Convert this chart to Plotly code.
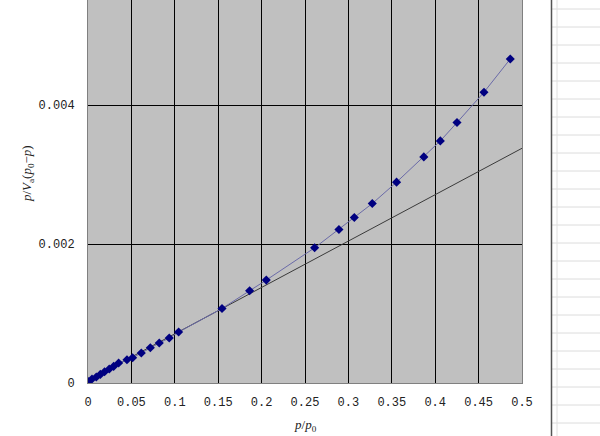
import plotly.graph_objects as go

# Measured data (p/p0 vs p/[Va(p0-p)])
rel_pressure = [0.0005, 0.0046, 0.0096, 0.0142, 0.0191, 0.0245, 0.0295, 0.0353,
                0.0449, 0.0514, 0.0614, 0.0718, 0.0821, 0.0936, 0.1044, 0.1544,
                0.1862, 0.2054, 0.2611, 0.2891, 0.3068, 0.3275, 0.3555, 0.3869,
                0.4059, 0.4251, 0.4562, 0.4865]
bet_value = [0.000020, 0.000058, 0.000086, 0.000124, 0.000163, 0.000201, 0.000239, 0.000288,
             0.000335, 0.000364, 0.000432, 0.000508, 0.000576, 0.000647, 0.000734, 0.001073,
             0.001328, 0.001482, 0.001947, 0.002210, 0.002383, 0.002584, 0.002892, 0.003256,
             0.003486, 0.003750, 0.004187, 0.004666]

# Linear fit line endpoints
fit_x = [0.0, 0.5]
fit_y = [0.00004, 0.00338]

x_ticks = [0, 0.05, 0.1, 0.15, 0.2, 0.25, 0.3, 0.35, 0.4, 0.45, 0.5]
x_ticklabels = ["0", "0.05", "0.1", "0.15", "0.2", "0.25", "0.3", "0.35", "0.4", "0.45", "0.5"]
y_ticks = [0, 0.002, 0.004]
y_ticklabels = ["0", "0.002", "0.004"]

tick_font = dict(family="Liberation Mono, DejaVu Sans Mono, monospace", size=12, color="#222222")

fig = go.Figure()
fig.add_trace(go.Scatter(x=fit_x, y=fit_y, mode="lines",
                         line=dict(color="#3a3a3a", width=1), showlegend=False))
fig.add_trace(go.Scatter(x=rel_pressure, y=bet_value, mode="lines+markers",
                         line=dict(color="#6a6aa8", width=1),
                         marker=dict(symbol="diamond", size=7, color="#000080",
                                     line=dict(width=0)),
                         showlegend=False))

fig.update_layout(
    width=600, height=436,
    margin=dict(l=88, r=78, t=0, b=53, autoexpand=False),
    paper_bgcolor="white",
    plot_bgcolor="#C0C0C0",
    xaxis=dict(range=[0, 0.5], tickvals=x_ticks, ticktext=x_ticklabels,
               showgrid=True, gridcolor="#000000", gridwidth=1, automargin=False,
               zeroline=False, showline=True, linecolor="#808080", linewidth=1,
               mirror=True, ticks="", tickfont=tick_font, ticklabelstandoff=8),
    yaxis=dict(range=[0, 0.005515], tickvals=y_ticks, ticktext=y_ticklabels,
               showgrid=True, gridcolor="#000000", gridwidth=1, automargin=False,
               zeroline=False, showline=True, linecolor="#808080", linewidth=1,
               mirror=True, ticks="", tickfont=tick_font, ticklabelstandoff=10),
)

# axis titles as annotations
fig.add_annotation(text="<i>p</i>/<i>p</i><sub>0</sub>", xref="paper", yref="paper",
                   x=0.5, y=-42 / 383, xanchor="center", yanchor="middle",
                   showarrow=False,
                   font=dict(family="Liberation Serif, serif", size=13, color="#222222"))
fig.add_annotation(text="<i>p</i>/<i>V</i><sub>a</sub>(<i>p</i><sub>0</sub>−<i>p</i>)",
                   xref="paper", yref="paper", textangle=-90,
                   x=(27 - 88) / 434, y=(383 - 174) / 383, xanchor="center", yanchor="middle",
                   showarrow=False,
                   font=dict(family="Liberation Serif, serif", size=13, color="#222222"))

# spreadsheet background decoration on the right
def px_x(p):
    return (p - 88) / 434

def px_y(p):
    return (383 - p) / 383

for yy in range(9, 436, 18):
    fig.add_shape(type="line", xref="paper", yref="paper",
                  x0=px_x(552), x1=px_x(600), y0=px_y(yy), y1=px_y(yy),
                  line=dict(color="#dcdcdc", width=1), layer="below")
fig.add_shape(type="line", xref="paper", yref="paper",
              x0=px_x(557), x1=px_x(557), y0=px_y(0), y1=px_y(436),
              line=dict(color="#e0e0e0", width=1), layer="below")
fig.add_shape(type="line", xref="paper", yref="paper",
              x0=px_x(551.5), x1=px_x(551.5), y0=px_y(0), y1=px_y(436),
              line=dict(color="#555555", width=1.5), layer="below")

fig.write_html("out.html", config={"displayModeBar": False},
               post_script="document.body.style.margin='0';document.body.style.padding='0';")
